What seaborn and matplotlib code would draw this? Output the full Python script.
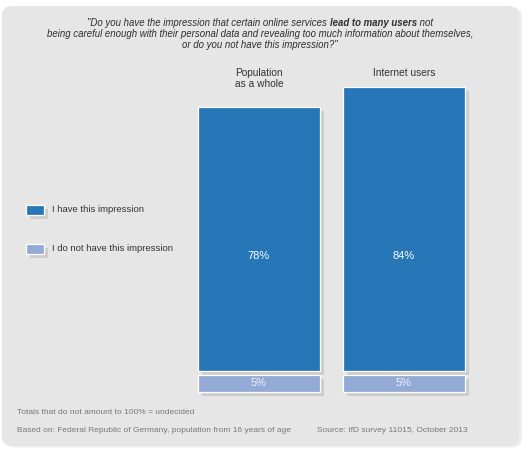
import seaborn as sns
import matplotlib.pyplot as plt
import matplotlib.patheffects as pe
from matplotlib.patches import FancyBboxPatch, Rectangle
import pandas as pd

groups = ["Population\nas a whole", "Internet users"]
have = [78, 84]
not_have = [5, 5]
series = ["I have this impression", "I do not have this impression"]
colors = ["#2776b8", "#93aad6"]

W, H = 525, 450
sns.set_theme(style="white")
plt.rcParams["font.family"] = ["Liberation Sans", "DejaVu Sans"]

fig = plt.figure(figsize=(W / 100, H / 100), dpi=100)
fig.patch.set_facecolor("white")


def fx(x):
    return x / W


def fy(y):
    return 1 - y / H


# rounded grey card behind everything
card = FancyBboxPatch((fx(2), fy(446)), fx(517), 440 / H, boxstyle="round,pad=0,rounding_size=0.02",
                      transform=fig.transFigure, facecolor="#e6e6e7", edgecolor="none", zorder=-10,
                      path_effects=[pe.SimplePatchShadow(offset=(2, -1), alpha=0.08, shadow_rgbFace="k"), pe.Normal()])
fig.add_artist(card)

shadow = [pe.SimplePatchShadow(offset=(3, -3), alpha=0.12, shadow_rgbFace="k"), pe.Normal()]

ax = fig.add_axes([fx(186.5), 52 / H, fx(290), 338 / H])
ax.set_facecolor("none")

df = pd.DataFrame({"group": groups, "have": have, "not_have": [-v for v in not_have]})
sns.barplot(data=df, x="group", y="have", color=colors[0], saturation=1, width=0.84,
            edgecolor="white", linewidth=0.9, ax=ax)
n_blue = len(ax.patches)
sns.barplot(data=df, x="group", y="not_have", color=colors[1], saturation=1, width=0.84,
            edgecolor="white", linewidth=0.9, ax=ax)
gap = 1.2
for p in ax.patches[n_blue:]:
    p.set_y(p.get_y() - gap)
for p in ax.patches:
    p.set_path_effects(shadow)

ax.set_xlim(-0.5, 1.5)
ax.set_ylim(-8, 92)
ax.axis("off")

for i, g in enumerate(groups):
    ax.text(i, 34, f"{have[i]}%", ha="center", va="center", color="white", fontsize=8)
    ax.text(i, -gap - not_have[i] / 2, f"{not_have[i]}%", ha="center", va="center",
            color="#eef2fa", fontsize=8)
    ax.text(i, 89.6, g, ha="center", va="top", color="#333333", fontsize=7.3, linespacing=1.12)

# title with bold part
fs = 6.9
tc = "#2e2e2e"
y1, y2, y3 = fy(23), fy(34), fy(45)
parts = [('"Do you have the impression that certain online services ', "normal"),
         ("lead to many users", "bold"),
         (" not", "normal")]
renderer = fig.canvas.get_renderer()
texts = []
for s, w in parts:
    t = fig.text(0, y1, s, fontsize=fs, style="italic", weight=w, color=tc, va="center", ha="left")
    texts.append(t)
widths = [t.get_window_extent(renderer).width for t in texts]
x0 = 260 - sum(widths) / 2
for t, wd in zip(texts, widths):
    t.set_x(fx(x0))
    x0 += wd
fig.text(fx(260), y2, "being careful enough with their personal data and revealing too much information about themselves,",
         fontsize=fs, style="italic", color=tc, ha="center", va="center")
fig.text(fx(260), y3, 'or do you not have this impression?"', fontsize=fs, style="italic", color=tc,
         ha="center", va="center")

# legend
for k, (lab, c, yc) in enumerate(zip(series, colors, [210, 248.5])):
    r = Rectangle((fx(26), fy(yc + 5)), fx(18), 10 / H, transform=fig.transFigure, facecolor=c,
                  edgecolor="white", linewidth=0.9, path_effects=shadow)
    fig.add_artist(r)
    fig.text(fx(52), fy(yc), lab, fontsize=6.8, color="#333333", va="center", ha="left")

# footer
fc = "#777777"
fig.text(fx(17), fy(412), "Totals that do not amount to 100% = undecided", fontsize=6.0, color=fc, va="center")
fig.text(fx(17), fy(431), "Based on: Federal Republic of Germany, population from 16 years of age",
         fontsize=6.0, color=fc, va="center")
fig.text(fx(317), fy(431), "Source: IfD survey 11015, October 2013", fontsize=6.0, color=fc, va="center")

fig.savefig("out.png", dpi=100)
